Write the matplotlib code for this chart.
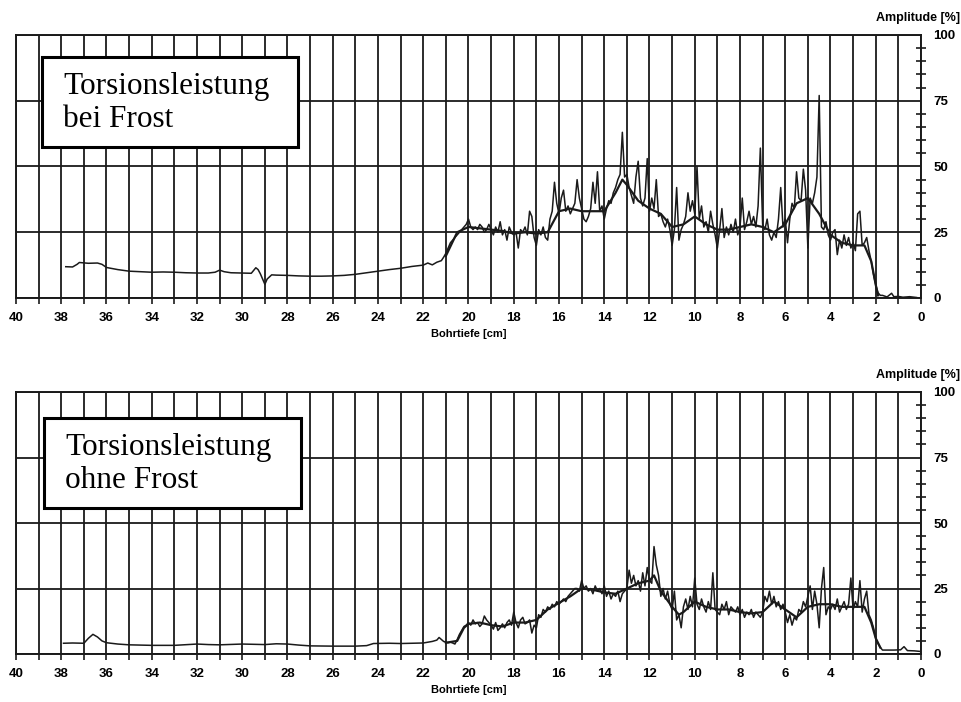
import numpy as np
import matplotlib.pyplot as plt
from matplotlib.patches import Rectangle
from matplotlib.ticker import MultipleLocator

# --- Torsionsleistung bei Frost (oben) ---
frost_depth_a = [37.8, 37.5, 37.3, 37.2, 36.8, 36.4, 36.2, 36.0, 35.5, 35, 34.5, 34, 33.5, 33,
                 32.5, 32, 31.5, 31.2, 31.0, 30.8, 30.5, 30, 29.6, 29.4, 29.3, 29.2, 29.0, 28.9,
                 28.7, 28.5, 28, 27.5, 27, 26.5, 26, 25.5, 25, 24.5, 24, 23.5, 23, 22.5, 22,
                 21.8, 21.6, 21.4, 21.2, 21.1]
frost_amp_a = [11.9, 11.8, 12.8, 13.5, 13.2, 13.3, 12.8, 11.6, 10.8, 10.2, 10.0, 9.8, 9.9, 9.8,
               9.6, 9.5, 9.5, 9.8, 10.6, 10.0, 9.6, 9.5, 9.4, 11.5, 10.8, 9.2, 5.2, 7.2,
               8.8, 8.7, 8.6, 8.4, 8.3, 8.3, 8.4, 8.6, 9.0, 9.6, 10.2, 10.8, 11.3, 12.0, 12.5,
               13.3, 12.6, 13.6, 14.2, 15.5]

# noisy part, 21.0 .. 1.8 cm in 0.1 cm steps
frost_amp_b = [
    17, 19, 21, 22, 23, 24, 25, 26, 27, 28,
    30, 27, 26, 27, 26, 28, 27, 25, 26, 28,
    26, 24, 27, 25, 29, 24, 26, 22, 27, 25,
    24, 25, 19, 26, 25, 27, 24, 33, 31, 23,
    20, 26, 24, 27, 23, 22, 30, 33, 44, 36,
    32, 38, 41, 33, 35, 32, 34, 36, 45, 38,
    34, 30, 29, 31, 34, 44, 36, 48, 33, 35,
    30, 34, 37, 36, 40, 42, 45, 47, 63, 46,
    47, 42, 39, 36, 46, 52, 38, 35, 38, 53,
    33, 38, 34, 45, 31, 32, 29, 27, 30, 26,
    20, 26, 42, 22, 26, 28, 31, 40, 33, 37,
    32, 50, 30, 35, 27, 29, 25, 33, 28, 24,
    19, 26, 34, 23, 27, 24, 28, 25, 30, 24,
    27, 38, 26, 29, 33, 28, 31, 27, 35, 57,
    28, 26, 30, 24, 22, 25, 23, 30, 42, 27,
    30, 21, 30, 36, 34, 48, 38, 37, 49, 41,
    19, 38, 36, 40, 46, 77, 27, 26, 29, 24,
    22, 25, 26, 16.5, 22, 19, 24, 20, 23, 19,
    21, 18, 32, 33, 20, 21, 23, 18, 14, 9,
    5, 2, 1]

frost_depth_c = [1.7, 1.5, 1.3, 1.2, 1.0, 0.8, 0.5, 0.2]
frost_amp_c = [1.0, 0.4, 1.8, 0.5, 0.6, 0.3, 0.5, 0.2]

frost_mean_depth = [21, 20.5, 20, 19.5, 19, 18.5, 18, 17.5, 17, 16.5, 16, 15.5, 15, 14.5, 14,
                    13.5, 13.2, 13, 12.5, 12, 11.5, 11, 10.5, 10, 9.5, 9, 8.5, 8, 7.5, 7, 6.5,
                    6, 5.5, 5, 4.5, 4, 3.5, 3, 2.5, 2.2, 2.0, 1.9]
frost_mean_amp = [16, 25, 27, 26.5, 26, 25.5, 24.5, 25, 24.5, 25, 33, 34, 33, 33, 33,
                  40, 45, 43, 37, 34, 32, 27, 28, 31, 28, 26, 26, 27, 28, 27, 25,
                  28, 36, 38, 32, 24, 21, 20, 20, 14, 5, 1]

# --- Torsionsleistung ohne Frost (unten) ---
nofrost_depth_a = [37.9, 37.5, 37.0, 36.8, 36.6, 36.4, 36.2, 36.0, 35.5, 35, 34, 33, 32, 31.5,
                   31, 30, 29, 28.5, 28, 27.5, 27, 26, 25, 24.5, 24.2, 23.5, 23, 22, 21.6,
                   21.4, 21.3, 21.1]
nofrost_amp_a = [4.1, 4.2, 4.1, 6, 7.5, 6.5, 5, 4.3, 3.8, 3.5, 3.3, 3.3, 3.8, 3.6,
                 3.5, 3.8, 3.6, 3.9, 3.8, 3.4, 3.1, 3.0, 3.0, 3.2, 4.0, 4.1, 4.0, 4.2, 4.8,
                 5.3, 6.3, 4.8]

nofrost_amp_b = [
    4.5, 4.3, 4.5, 4.2, 3.8, 5.5, 7.5, 9, 10.5, 11,
    12, 11, 13, 11.5, 12, 10.5, 11.5, 14.5, 13, 12,
    11, 9.5, 12, 9, 10, 11.5, 10, 12, 13, 11,
    16, 12, 10, 13, 14, 11.5, 12, 13, 8, 11,
    10, 15, 14, 17, 16, 18, 17, 19, 18, 20,
    19, 20, 21, 20, 22, 23, 24, 25, 25, 24,
    28, 25, 26, 24, 25, 23, 26, 24, 25, 23,
    26, 22, 24, 21, 23, 22, 24, 20, 23, 24,
    25, 32, 27, 30, 26, 28, 24, 31, 26, 33,
    28, 27, 41, 34, 30, 22, 25, 21, 24, 19,
    17, 24, 13, 15, 10, 18, 21, 17, 22, 18,
    29, 19, 17, 21, 18, 16, 20, 17, 31, 17,
    16, 15, 19, 17, 20, 15, 18, 17, 16, 18,
    15, 17, 14, 16, 15, 17, 14, 16, 15, 14,
    16, 22, 20, 24, 19, 22, 18, 20, 17, 19,
    16, 12, 15, 11, 14, 13, 17, 16, 20, 18,
    22, 26, 17, 24, 19, 10, 25, 33, 15, 18,
    17, 19, 17, 21, 16, 18, 20, 17, 19, 29,
    17, 20, 18, 28, 16, 21, 24, 15, 13, 10,
    6, 4, 2.5]

nofrost_depth_c = [1.7, 1.5, 1.2, 0.9, 0.75, 0.6, 0.3, 0.05]
nofrost_amp_c = [1.5, 1.5, 1.5, 1.6, 2.8, 1.3, 1.2, 1.0]

nofrost_mean_depth = [21, 20.5, 20.2, 20, 19.5, 19, 18.5, 18, 17.5, 17, 16.5, 16, 15.5, 15,
                      14.5, 14, 13.5, 13, 12.5, 12, 11.8, 11.5, 11, 10.7, 10.5, 10, 9.5, 9,
                      8.5, 8, 7.5, 7, 6.5, 6, 5.5, 5, 4.5, 4, 3.5, 3, 2.5, 2.2, 2, 1.8]
nofrost_mean_amp = [4.3, 5, 10, 11.5, 12, 11, 10.5, 12, 12, 13, 17, 19.5, 22, 25,
                    24.5, 23.5, 23, 25, 27, 28, 30, 24, 18, 15, 16, 20, 18, 17,
                    17, 16, 15.5, 16, 20, 17, 14, 18, 19, 19, 18, 18, 18, 12, 6, 2.5]

depth_b = np.round(np.arange(21.0, 1.75, -0.1), 1)

W, H = 962, 702
fig = plt.figure(figsize=(W / 100, H / 100), dpi=100)
ink = '#1a1a1a'


def panel(rect, da, aa, ab, dc, ac, dm, am, title, box):
    ax = fig.add_axes(rect)
    x = np.concatenate([da, depth_b, dc])
    y = np.concatenate([aa, ab, ac])
    ax.plot(x, y, color=ink, lw=1.1, zorder=3)
    ax.plot(dm, am, color=ink, lw=1.6, zorder=3)
    ax.set_xlim(40, 0)
    ax.set_ylim(0, 100)
    ax.xaxis.set_major_locator(MultipleLocator(2))
    ax.xaxis.set_minor_locator(MultipleLocator(1))
    ax.yaxis.set_major_locator(MultipleLocator(25))
    ax.yaxis.set_minor_locator(MultipleLocator(5))
    ax.grid(True, which='both', axis='x', color=ink, lw=1.3)
    ax.grid(True, which='major', axis='y', color=ink, lw=1.3)
    ax.yaxis.tick_right()
    ax.tick_params(axis='x', which='both', direction='out', length=4, width=1.2,
                   color=ink, pad=6, labelsize=9.5)
    ax.tick_params(axis='y', which='major', direction='inout', length=0, pad=9, labelsize=9.5)
    ax.tick_params(axis='y', which='minor', direction='inout', length=7, width=1.2, color=ink)
    for lab in ax.get_xticklabels() + ax.get_yticklabels():
        lab.set_fontweight('bold')
        lab.set_fontfamily('Liberation Sans')
    for s in ax.spines.values():
        s.set_color(ink)
        s.set_linewidth(1.4)
    ax.set_xlabel('Bohrtiefe [cm]', fontsize=8, fontweight='bold',
                  fontfamily='Liberation Sans', labelpad=4)
    bb = ax.get_position()
    fig.text(960 / W, bb.y1 + 11 / H, 'Amplitude [%]', ha='right', va='bottom',
             fontsize=9, fontweight='bold', fontfamily='Liberation Sans')
    # label box
    x0, y0, x1, y1 = box
    fig.patches.append(Rectangle((x0 / W, 1 - y1 / H), (x1 - x0) / W, (y1 - y0) / H,
                                 transform=fig.transFigure, facecolor='white',
                                 edgecolor='black', lw=2.2, zorder=5))
    fig.text((x0 + 21) / W, 1 - (y0 + 15) / H, title, ha='left', va='top',
             fontsize=22.5, fontfamily='Liberation Serif', linespacing=1.18, zorder=6)
    return ax


ax1 = panel([16 / W, 1 - 298 / H, 905 / W, 263 / H],
            frost_depth_a, frost_amp_a, frost_amp_b, frost_depth_c, frost_amp_c,
            frost_mean_depth, frost_mean_amp, 'Torsionsleistung\nbei Frost', (42, 57, 298, 147))
ax2 = panel([16 / W, 1 - 654 / H, 905 / W, 262 / H],
            nofrost_depth_a, nofrost_amp_a, nofrost_amp_b, nofrost_depth_c, nofrost_amp_c,
            nofrost_mean_depth, nofrost_mean_amp, 'Torsionsleistung\nohne Frost', (44, 418, 301, 508))

fig.savefig('out.png', dpi=100)
